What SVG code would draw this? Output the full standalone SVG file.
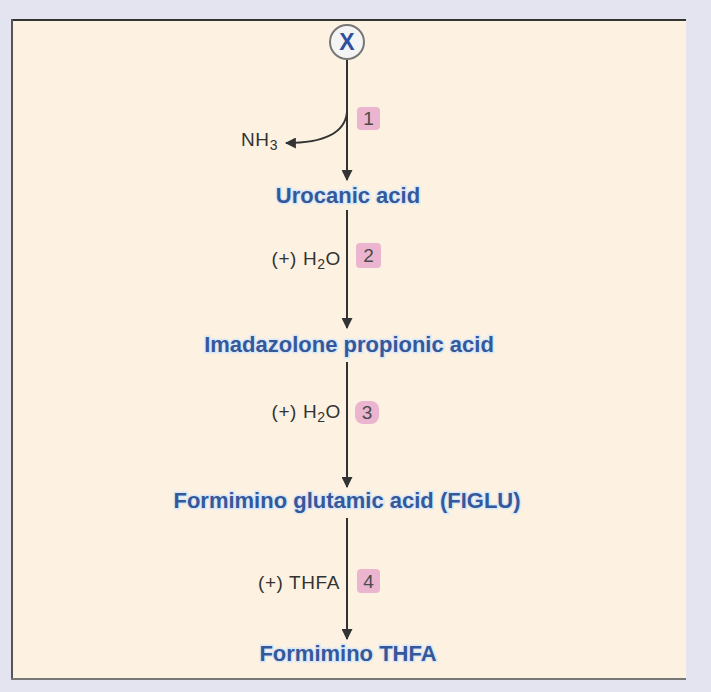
<svg xmlns="http://www.w3.org/2000/svg" width="711" height="692" viewBox="0 0 711 692">
<defs>
<style>
.cmp{font-family:"Liberation Sans",Arial,sans-serif;font-weight:bold;font-size:22px;fill:#35589a;text-anchor:middle;stroke:#dce8f5;stroke-width:3px;paint-order:stroke;}
.lbl{font-family:"Liberation Sans",Arial,sans-serif;font-size:19px;fill:#333;letter-spacing:0.6px;}
.sub{font-size:14px;}
.num{font-family:"Liberation Sans",Arial,sans-serif;font-size:19px;fill:#4a4a4a;text-anchor:middle;}
.badge{fill:#ecb5cf;}
.ln{stroke:#333;stroke-width:2;fill:none;}
</style>
<marker id="ahs" viewBox="0 0 10 10" refX="9" refY="5" markerWidth="5.5" markerHeight="5.5" markerUnits="strokeWidth" orient="auto">
<path d="M0,0 L10,5 L0,10 z" fill="#333"/>
</marker>
</defs>
<rect width="711" height="692" fill="#e4e4f0"/>
<rect x="11" y="19" width="675" height="661" fill="#fdf2e2"/>
<line x1="11" y1="20" x2="686" y2="20" stroke="#333" stroke-width="2"/>
<line x1="12" y1="19" x2="12" y2="680" stroke="#555" stroke-width="2"/>
<line x1="11" y1="679" x2="686" y2="679" stroke="#777" stroke-width="2"/>

<g id="connectors">
<line class="ln" x1="347" y1="60" x2="347" y2="180" marker-end="url(#ahs)"/>
<path class="ln" d="M347,112 C345,134 322,143 286,143" marker-end="url(#ahs)"/>
<line class="ln" x1="347" y1="210" x2="347" y2="328" marker-end="url(#ahs)"/>
<line class="ln" x1="347" y1="362" x2="347" y2="487" marker-end="url(#ahs)"/>
<line class="ln" x1="347" y1="518" x2="347" y2="639" marker-end="url(#ahs)"/>
</g>

<g id="histidine">
<circle cx="347" cy="42" r="17" fill="#f4f4f4" stroke="#777" stroke-width="2"/>
<text x="347" y="50" class="cmp" style="font-size:23px;stroke:none;fill:#2f4fa0">X</text>
</g>
<g id="nh3">
<text x="241" y="146" class="lbl">NH<tspan class="sub" dy="4">3</tspan></text>
</g>
<g id="step1">
<rect x="357" y="107" width="23" height="23" rx="4" class="badge"/>
<text x="368.5" y="125" class="num">1</text>
</g>
<g id="urocanic">
<text x="348" y="203" class="cmp">Urocanic acid</text>
</g>
<g id="step2">
<text x="341" y="265" class="lbl" text-anchor="end">(+) H<tspan class="sub" dy="4">2</tspan><tspan dy="-4">O</tspan></text>
<rect x="356" y="243" width="25" height="25" rx="4" class="badge"/>
<text x="368.5" y="262" class="num">2</text>
</g>
<g id="imidazolone">
<text x="349" y="352" class="cmp">Imadazolone propionic acid</text>
</g>
<g id="step3">
<text x="341" y="418" class="lbl" text-anchor="end">(+) H<tspan class="sub" dy="4">2</tspan><tspan dy="-4">O</tspan></text>
<rect x="355" y="401" width="24" height="23" rx="8" class="badge"/>
<text x="367" y="419" class="num">3</text>
</g>
<g id="figlu">
<text x="347" y="508" class="cmp">Formimino glutamic acid (FIGLU)</text>
</g>
<g id="step4">
<text x="340" y="589" class="lbl" text-anchor="end">(+) THFA</text>
<rect x="357" y="569" width="23" height="24" rx="4" class="badge"/>
<text x="368.5" y="588" class="num">4</text>
</g>
<g id="formimino-thfa">
<text x="348" y="661" class="cmp">Formimino THFA</text>
</g>
</svg>
